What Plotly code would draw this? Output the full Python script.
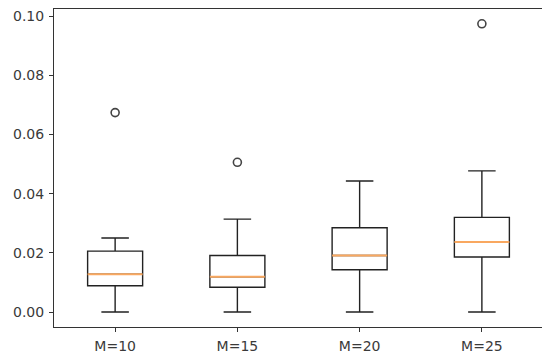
import plotly.graph_objects as go

categories = ["M=10", "M=15", "M=20", "M=25"]
positions = [1, 2, 3, 4]
lower_whisker = [0.0, 0.0, 0.0, 0.0]
q1 = [0.0089, 0.0084, 0.0143, 0.0186]
median = [0.0128, 0.0119, 0.0191, 0.0237]
q3 = [0.0206, 0.0191, 0.0285, 0.0320]
upper_whisker = [0.0250, 0.0314, 0.0443, 0.0477]
outlier_pos = [1, 2, 4]
outlier_vals = [0.0674, 0.0506, 0.0974]
yticks = [0.0, 0.02, 0.04, 0.06, 0.08, 0.10]

box_w = 0.45
font = dict(family="DejaVu Sans", size=14, color="#3a3a3a")

fig = go.Figure()
for i, p in enumerate(positions):
    fig.add_trace(go.Box(
        x=[p], q1=[q1[i]], median=[median[i]], q3=[q3[i]],
        lowerfence=[lower_whisker[i]], upperfence=[upper_whisker[i]],
        width=box_w, whiskerwidth=0.5, boxpoints=False,
        line=dict(color="#222222", width=1.4), fillcolor="rgba(0,0,0,0)",
        showlegend=False, hoverinfo="skip",
    ))
    fig.add_trace(go.Scatter(
        x=[p - box_w / 2, p + box_w / 2], y=[median[i], median[i]],
        mode="lines", line=dict(color="#f9a860", width=2),
        showlegend=False, hoverinfo="skip",
    ))

fig.add_trace(go.Scatter(
    x=outlier_pos, y=outlier_vals, mode="markers",
    marker=dict(symbol="circle-open", size=8, color="#444444", line=dict(width=1.6, color="#444444")),
    showlegend=False, hoverinfo="skip",
))

axis_common = dict(showgrid=False, zeroline=False, showline=True, linecolor="#333333",
                   linewidth=1, mirror=True, ticks="outside", ticklen=4, tickwidth=1,
                   tickcolor="#333333", tickfont=font, automargin=False,
                   ticklabelstandoff=2)

# The page body has an 8px default margin; the figure is sized to fit the window.
fig.update_layout(
    width=542, height=348,
    margin=dict(l=46, r=7, t=1, b=29),
    paper_bgcolor="white", plot_bgcolor="white",
    xaxis=dict(range=[0.5, 4.5], tickvals=positions, ticktext=categories, **axis_common),
    yaxis=dict(range=[-0.00505, 0.1024], tickvals=yticks, tickformat=".2f", **axis_common),
    boxmode="overlay",
)

fig.write_html("out.html")
